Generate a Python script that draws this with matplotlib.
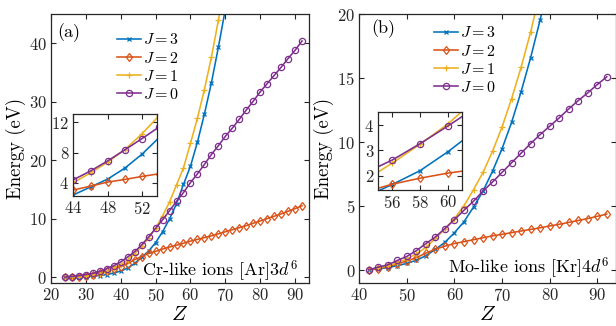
"""
Excitation energies of the J levels in Cr-like and Mo-like ions versus Z,
two panels with zoomed insets (MATLAB-like styling).
"""
import numpy as np
import matplotlib
matplotlib.use("Agg")
import matplotlib.pyplot as plt

plt.rcParams["font.family"] = "cmr10"
plt.rcParams["mathtext.fontset"] = "cm"
plt.rcParams["axes.formatter.use_mathtext"] = True

# ---- data (energies in eV) ----
# Cr-like ions [Ar]3d^6, Z = 24 ... 92
z_cr = np.arange(24, 93, 2)
cr_j3 = [0.0, 0.02, 0.06, 0.12, 0.2, 0.32, 0.5, 0.75, 1.1, 1.6, 2.4, 3.45, 4.5,
         5.95, 7.8, 10.0, 12.6, 15.9, 19.0, 23.1, 27.9, 33.2, 39.3, 45.8, 52.8]
cr_j2 = [0.0, 0.05, 0.15, 0.3, 0.5, 0.75, 1.05, 1.4, 1.85, 2.35, 3.05, 3.56,
         4.1, 4.45, 4.85, 5.2, 5.5, 5.85, 6.2, 6.5, 6.8, 7.1, 7.45, 7.8, 8.15,
         8.5, 8.85, 9.25, 9.65, 10.05, 10.45, 10.85, 11.3, 11.75, 12.25]
cr_j1 = [0.0, 0.05, 0.12, 0.22, 0.38, 0.6, 0.9, 1.55, 2.2, 3.0, 4.05, 5.3,
         6.75, 8.4, 10.5, 12.9, 15.8, 18.7, 22.9, 27.2, 32.1, 37.6, 43.9, 51.0]
cr_j0 = [0.05, 0.15, 0.3, 0.5, 0.7, 1.05, 1.5, 2.0, 2.65, 3.5, 4.4, 5.57, 6.9,
         8.37, 9.85, 11.4, 13.0, 14.5, 16.2, 17.7, 19.3, 21.0, 22.5, 24.1, 25.5,
         27.0, 28.6, 30.1, 31.7, 33.1, 34.5, 35.9, 37.4, 38.8, 40.4]

# Mo-like ions [Kr]4d^6, Z = 42 ... 92
z_mo = np.arange(42, 93, 2)
mo_j3 = [0.05, 0.12, 0.22, 0.38, 0.55, 0.8, 1.15, 1.65, 2.2, 2.95, 3.8, 4.95,
         6.2, 7.75, 9.5, 11.55, 13.95, 16.6, 19.55, 22.8]
mo_j2 = [0.05, 0.15, 0.3, 0.5, 0.75, 1.0, 1.35, 1.66, 1.9, 2.1, 2.25, 2.4,
         2.55, 2.7, 2.82, 2.95, 3.08, 3.2, 3.33, 3.47, 3.6, 3.75, 3.9, 4.05,
         4.22, 4.4]
mo_j1 = [0.08, 0.2, 0.35, 0.6, 0.9, 1.3, 1.8, 2.5, 3.25, 4.05, 5.05, 6.3, 7.65,
         9.3, 11.2, 13.4, 15.85, 18.6, 21.7]
mo_j0 = [0.05, 0.26, 0.44, 0.78, 1.1, 1.55, 2.1, 2.62, 3.27, 3.97, 4.7, 5.4,
         6.2, 6.9, 7.65, 8.4, 9.15, 9.9, 10.6, 11.25, 11.9, 12.6, 13.25, 13.85,
         14.5, 15.1]

j_labels = [3, 2, 1, 0]

# MATLAB default colour order
STYLE = {
    3: dict(color="#0072BD", marker="x", mfc="none", ms=3.2),
    2: dict(color="#D95319", marker="d", mfc="none", ms=4.5),
    1: dict(color="#EDB120", marker="+", mfc="none", ms=4.5),
    0: dict(color="#7E2F8E", marker="o", mfc="none", ms=4.5),
}
AXCOL = "#262626"


def style_axes(ax, fs=12):
    ax.tick_params(direction="in", top=True, right=True, length=3.5,
                   width=0.8, color=AXCOL, labelcolor=AXCOL, labelsize=fs,
                   pad=3)
    for sp in ax.spines.values():
        sp.set_linewidth(0.9)
        sp.set_color(AXCOL)


def plot_series(ax, z, series, with_label):
    for j, vals in zip(j_labels, series):
        st = STYLE[j]
        ax.plot(z[:len(vals)], vals, color=st["color"], linewidth=1.15,
                marker=st["marker"], markersize=st["ms"],
                markerfacecolor=st["mfc"], markeredgecolor=st["color"],
                markeredgewidth=0.9,
                label=f"$J = {j}$" if with_label else None)


def draw_panel(fig, rect, z, series, xlim, ylim, xticks, yticks, tag, tag_pos,
               note, note_pos, leg_anchor, inset_rect, inset_xlim, inset_ylim,
               inset_xticks, inset_yticks):
    ax = fig.add_axes(rect)
    plot_series(ax, z, series, True)
    ax.set_xlim(*xlim)
    ax.set_ylim(*ylim)
    ax.set_xticks(xticks)
    ax.set_yticks(yticks)
    ax.set_xlabel("$Z$", fontsize=15, labelpad=1)
    ax.set_ylabel("Energy (eV)", fontsize=13.5, labelpad=2)
    style_axes(ax)
    ax.text(tag_pos[0], tag_pos[1], tag, transform=ax.transAxes,
            ha="left", va="center", fontsize=13)
    ax.text(note_pos[0], note_pos[1], note, transform=ax.transAxes,
            ha="right", va="center", fontsize=13)
    ax.legend(loc="upper left", bbox_to_anchor=leg_anchor, frameon=False,
              fontsize=11.5, borderpad=0, borderaxespad=0, handlelength=1.5,
              handletextpad=0.12, labelspacing=0.2)

    ins = fig.add_axes(inset_rect)
    plot_series(ins, z, series, False)
    ins.set_xlim(*inset_xlim)
    ins.set_ylim(*inset_ylim)
    ins.set_xticks(inset_xticks)
    ins.set_yticks(inset_yticks)
    style_axes(ins)
    return ax


fig = plt.figure(figsize=(6.16, 3.26), dpi=100)

draw_panel(fig, [0.0828, 0.131, 0.4188, 0.826], z_cr,
           [cr_j3, cr_j2, cr_j1, cr_j0],
           (20, 94), (-1, 45), np.arange(20, 91, 10), [0, 10, 20, 30, 40],
           "(a)", (0.023, 0.93), r"Cr-like ions $[\mathrm{Ar}]3d^6$",
           (0.955, 0.045), (0.256, 0.932),
           [0.119, 0.3997, 0.1354, 0.2506], (44, 53.7), (2.3, 13.1),
           [44, 48, 52], [4, 8, 12])

draw_panel(fig, [0.5833, 0.131, 0.4172, 0.826], z_mo,
           [mo_j3, mo_j2, mo_j1, mo_j0],
           (40, 94), (-1, 20), np.arange(40, 91, 10), [0, 5, 10, 15, 20],
           "(b)", (0.045, 0.944), r"Mo-like ions $[\mathrm{Kr}]4d^6$",
           (0.975, 0.055), (0.29, 0.958),
           [0.6144, 0.4172, 0.1356, 0.240], (55, 61), (1.43, 4.53),
           [56, 58, 60], [2, 3, 4])

fig.savefig("out.png", dpi=100)
